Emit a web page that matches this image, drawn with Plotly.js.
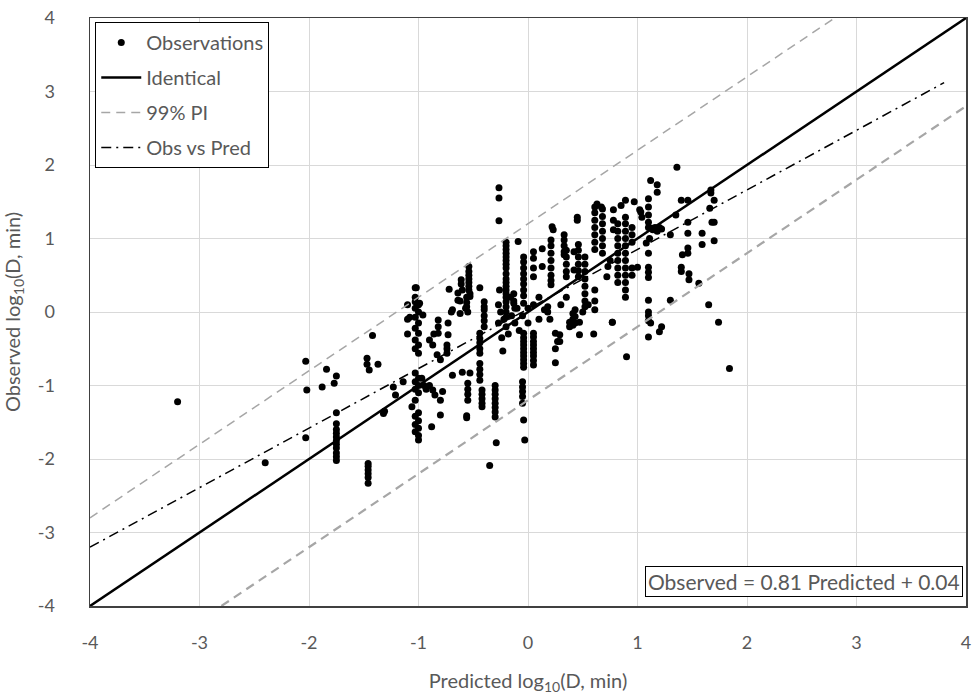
<!DOCTYPE html>
<html>
<head>
<meta charset="utf-8">
<script src="https://cdn.plot.ly/plotly-3.0.1.min.js"></script>
<style>html,body{margin:0;padding:0;background:#fff;}#chart{width:974px;height:695px;}</style>
</head>
<body>
<div id="chart"></div>
<script>
// Observations: predicted (x) and observed (y) log10(D, min)
const predicted = [
 -3.2, -2.4, -2.03, -2.02, -2.03, -1.88, -1.84, -1.77, -1.75,
 -1.75, -1.75, -1.75, -1.75, -1.75, -1.75, -1.75, -1.75, -1.75, -1.75, -1.75,
 -1.47, -1.47, -1.45, -1.42, -1.37,
 -1.46, -1.46, -1.46, -1.46, -1.46, -1.46,
 -1.32, -1.31, -1.23, -1.21, -1.14, -1.06, -1.1, -1.1, -1.1, -1.08,
 -1.03, -1.03, -1.03, -1.03, -1.03, -1.03, -1.03, -1.03, -1.03, -1.03, -1.03, -1.03, -1.03, -1.03, -1.03,
 -1.0, -1.0, -1.0, -1.0, -1.0, -1.0, -1.0, -1.0, -1.0, -1.0, -1.0, -1.0, -1.0, -1.0,
 -0.96, -0.99, -0.97, -0.95, -0.93,
 -0.9, -0.87, -0.83, -0.8, -0.82, -0.82, -0.82, -0.9, -0.87, -0.85, -0.8, -0.78, -0.8, -0.88, -0.86,
 -0.73, -0.73, -0.74, -0.74, -0.74, -0.69, -0.6, -0.53,
 -0.55, -0.55, -0.55, -0.55, -0.56, -0.56,
 -0.44, -0.44, -0.44, -0.44, -0.42, -0.42, -0.42, -0.42, -0.42,
 -0.44, -0.44, -0.44, -0.44, -0.44,
 -0.3, -0.3, -0.3, -0.3, -0.3, -0.3, -0.3, -0.3, -0.29, -0.35, -0.23,
 -0.05, -0.05, -0.05, -0.05, -0.05, -0.04, -0.03,
 -0.04, -0.04, -0.04, -0.04, -0.04, -0.04, -0.04, -0.04, -0.04, -0.04,
 0.05, 0.05, 0.05, 0.05, 0.05, 0.05, 0.05, 0.05, 0.05,
 0.18, 0.18, 0.2, 0.15, 0.25, 0.25, 0.25, 0.27, 0.41, 0.41, 0.41,
 -0.4, -0.4, -0.4, -0.4, -0.4, -0.4,
 -0.27, -0.25, -0.22, -0.2, -0.18, -0.15, -0.13, -0.12, -0.1, -0.08, -0.27, -0.24, -0.16,
 -0.54, -0.54, -0.54, -0.54, -0.54, -0.54, -0.54, -0.53, -0.53,
 -0.61, -0.61, -0.6, -0.64, -0.64, -0.56, -0.56, -0.56, -0.72, -0.7, -0.62, -0.44, -0.26, -1.02,
 -0.62, -0.57, -0.55, -0.69, -0.13, -0.13, -0.12,
 -0.2, -0.2, -0.2, -0.2, -0.2, -0.2, -0.2, -0.2, -0.2, -0.2, -0.2, -0.2, -0.2, -0.2, -0.2, -0.2, -0.2, -0.2, -0.2,
 -0.265, -0.265, -0.265, -0.09,
 -0.04, -0.04, -0.04, -0.04, -0.04, -0.04, -0.04, -0.04, -0.04,
 0.05, 0.05, 0.05, 0.05, 0.13, 0.13, 0.22, 0.23,
 0.21, 0.21, 0.21, 0.21, 0.21, 0.21, 0.21, 0.21,
 0.33, 0.33, 0.33, 0.33, 0.33, 0.42, 0.42, 0.45, 0.45,
 0.35, 0.35, 0.35, 0.35, 0.35,
 0.46, 0.46, 0.46, 0.46, 0.46, 0.46,
 0.0, 0.05, 0.1, 0.1, 0.0, -0.05,
 0.29, 0.29, 0.38, 0.38, 0.47, 0.47, 0.6, 0.77, 0.3, 0.35, 0.5, 0.55,
 0.52, 0.52, 0.52, 0.52, 0.52, 0.52, 0.52, 0.52,
 0.61, 0.61, 0.61, 0.61, 0.61, 0.61, 0.61, 0.61, 0.61, 0.61,
 0.68, 0.68, 0.68, 0.68, 0.68, 0.68, 0.68,
 0.78, 0.78, 0.78,
 0.82, 0.82, 0.82, 0.82, 0.82, 0.82, 0.82, 0.82, 0.82,
 0.89, 0.89, 0.89, 0.89, 0.89, 0.89, 0.89, 0.89, 0.89, 0.89, 0.89, 0.89,
 0.89, 0.97, 1.02, 0.9, 1.03, 1.04,
 0.95, 0.95, 0.95, 0.95, 0.95, 1.0, 0.72, 0.77, 0.43, 0.43, 0.43,
 0.63, 0.67, 0.85, 0.73, 0.75,
 1.36, 1.12, 1.18, 1.18,
 1.1, 1.1, 1.1, 1.1,
 1.1, 1.13, 1.16, 1.2, 1.14, 1.18, 1.22,
 1.4, 1.46, 1.67, 1.67, 1.7, 1.66, 1.68, 1.7,
 1.46, 1.35, 1.3, 1.46, 1.59, 1.59, 1.7,
 1.46, 1.46, 1.41, 1.4, 1.4, 1.47, 1.47, 1.56,
 1.3, 1.65, 1.74, 1.84,
 1.1, 1.1, 1.1, 1.1, 1.12, 1.2, 1.22, 1.1,
 1.1, 1.1, 1.1, 1.1, 1.08, 1.11
];
const observed = [
 -1.22, -2.05, -0.67, -1.06, -1.71, -1.02, -0.78, -0.97, -0.87,
 -1.37, -1.52, -1.6, -1.65, -1.7, -1.75, -1.8, -1.85, -1.92, -1.97, -2.02,
 -0.63, -0.71, -0.79, -0.32, -0.71,
 -2.06, -2.1, -2.15, -2.2, -2.25, -2.33,
 -1.38, -1.35, -1.02, -1.13, -0.95, -1.29, 0.1, -0.1, -0.3, -0.07,
 0.33, 0.2, 0.14, 0.05, -0.07, -0.22, -0.38, -0.5, -0.83, -0.95, -1.05, -1.2, -1.42, -1.53, -1.63,
 0.1, 0.0, -0.15, -0.29, -0.45, -0.56, -0.9, -1.0, -1.1, -1.37, -1.48, -1.58, -1.68, -1.74,
 -0.04, 0.12, -0.9, -1.0, -1.05,
 -0.38, -0.45, -0.58, -0.65, -0.11, -0.2, -0.29, -1.0, -1.06, -1.13, -1.2, -1.08, -1.4, -1.56, -0.3,
 -0.15, -0.31, -0.45, -0.5, -0.56, -0.86, -0.82, -0.83,
 -0.97, -1.05, -1.12, -1.2, -1.41, -1.44,
 -0.7, -0.78, -0.85, -0.93, -1.06, -1.12, -1.18, -1.24, -1.29,
 -0.29, -0.36, -0.42, -0.5, -0.56,
 -1.0, -1.06, -1.12, -1.18, -1.24, -1.3, -1.36, -1.43, -1.78, -2.09, -0.53,
 -0.95, -1.02, -1.08, -1.15, -1.24, -1.47, -1.74,
 -0.29, -0.35, -0.4, -0.45, -0.5, -0.55, -0.6, -0.65, -0.7, -0.75,
 -0.29, -0.34, -0.4, -0.45, -0.5, -0.55, -0.6, -0.66, -0.72,
 0.07, 0.0, -0.1, 0.03, -0.29, -0.5, -0.69, -0.4, -0.02, -0.1, -0.18,
 0.14, 0.07, 0.03, -0.05, -0.12, -0.2,
 0.1, 0.0, -0.1, -0.2, -0.3, -0.05, 0.12, -0.15, 0.05, -0.25, -0.15, -0.35, 0.2,
 0.62, 0.55, 0.5, 0.45, 0.4, 0.35, 0.3, 0.25, 0.21,
 0.44, 0.38, 0.3, 0.26, 0.16, 0.2, 0.13, 0.07, 0.31, 0.0, -0.02, 0.33, 0.3, 0.33,
 0.15, 0.05, 0.0, 0.03, 0.25, 0.15, 0.05,
 0.95, 0.9, 0.85, 0.8, 0.75, 0.7, 0.65, 0.6, 0.52, 0.45, 0.4, 0.35, 0.3, 0.25, 0.2, 0.14, 0.07, 0.0, -0.07,
 1.69, 1.55, 1.24, 0.96,
 0.75, 0.68, 0.6, 0.52, 0.45, 0.38, 0.3, 0.22, 0.12,
 0.82, 0.73, 0.6, 0.48, 0.86, 0.62, 1.16, 1.12,
 0.98, 0.9, 0.8, 0.7, 0.6, 0.5, 0.43, 0.37,
 1.05, 0.98, 0.9, 0.82, 0.78, 0.82, 0.57, 1.29, 1.25,
 0.84, 0.75, 0.65, 0.55, 0.48,
 0.92, 0.84, 0.75, 0.65, 0.56, 0.48,
 0.05, 0.1, 0.2, -0.1, -0.15, -0.05,
 -0.31, -0.4, -0.14, -0.2, -0.14, -0.31, -0.3, -0.14, 0.1, 0.2, 0.0, 0.1,
 0.75, 0.65, 0.55, 0.45, 0.35, 0.25, 0.15, 0.07,
 1.43, 1.35, 1.25, 1.15, 1.05, 0.95, 0.85, 0.3, 0.15, 0.03,
 1.4, 1.3, 1.2, 1.1, 1.0, 0.9, 0.8,
 1.39, 1.25, 1.12,
 1.2, 1.1, 1.0, 0.9, 0.8, 0.7, 0.6, 0.5, 0.4,
 1.29, 1.2, 1.1, 1.0, 0.9, 0.8, 0.7, 0.6, 0.5, 0.4, 0.3, 0.2,
 1.52, 1.5, 1.39, -0.61, 1.36, 1.29,
 1.15, 1.05, 0.95, 0.6, 0.5, 0.61, 0.48, -0.14, 0.03, -0.06, -0.15,
 1.47, 1.43, 1.45, 0.62, 0.7,
 1.97, 1.79, 1.73, 1.63,
 1.54, 1.43, 1.32, 1.22,
 1.15, 1.14, 1.15, 1.15, 1.12, 1.1, 1.13,
 1.52, 1.52, 1.66, 1.62, 1.52, 1.41, 1.22, 1.22,
 1.22, 1.32, 1.05, 1.07, 1.07, 0.92, 0.97,
 0.87, 0.8, 0.78, 0.61, 0.55, 0.52, 0.44, 0.39,
 0.16, 0.1, -0.14, -0.77,
 0.16, 0.0, -0.05, -0.12, -0.15, -0.27, -0.2, -0.34,
 0.8, 0.61, 0.54, 0.47, 0.94, 1.0
];

// Reference lines (endpoints)
const identicalX = [-4, 4];
const identicalY = [-4, 4];
const piUpperX = [-4, 2.8];
const piUpperY = [-2.8, 4];
const piLowerX = [-2.8, 4];
const piLowerY = [-4, 2.8];
const fitX = [-4, 3.8];
const fitY = [-3.2, 3.12];

const legendNames = ["Observations", "Identical", "99% PI", "Obs vs Pred"];
const xTicks = [-4, -3, -2, -1, 0, 1, 2, 3, 4];
const yTicks = [-4, -3, -2, -1, 0, 1, 2, 3, 4];
const equationText = "Observed = 0.81 Predicted + 0.04";

const txt = "#595959";
const fontFam = "Lato, 'Open Sans', sans-serif";

const traces = [
 {x: predicted, y: observed, type: "scatter", mode: "markers", name: legendNames[0],
  legendgroup: "a", marker: {color: "#000", size: 7}, cliponaxis: true},
 {x: identicalX, y: identicalY, type: "scatter", mode: "lines", name: legendNames[1],
  legendgroup: "b", line: {color: "#000", width: 2.5}},
 {x: piUpperX, y: piUpperY, type: "scatter", mode: "lines", name: legendNames[2],
  legendgroup: "c", line: {color: "#a6a6a6", width: 1.5, dash: "9px,6px"}},
 {x: piLowerX, y: piLowerY, type: "scatter", mode: "lines", name: legendNames[2],
  legendgroup: "c", showlegend: false, line: {color: "#a6a6a6", width: 2.2, dash: "9px,6px"}},
 {x: fitX, y: fitY, type: "scatter", mode: "lines", name: legendNames[3],
  legendgroup: "d", line: {color: "#000", width: 1.5, dash: "10px,5px,2px,5px"}}
];

const layout = {
 width: 974, height: 695,
 margin: {l: 90, r: 8, t: 18, b: 89},
 paper_bgcolor: "#fff", plot_bgcolor: "#fff",
 font: {family: fontFam, color: txt, size: 18},
 showlegend: true,
 legend: {x: 0.006, y: 0.993, xanchor: "left", yanchor: "top",
  bordercolor: "#000", borderwidth: 1, bgcolor: "#fff",
  font: {family: fontFam, size: 20, color: txt},
  traceorder: "grouped", tracegroupgap: 6, itemwidth: 40},
 xaxis: {range: [-4, 4], tickvals: xTicks, ticktext: xTicks.map(String),
  showgrid: true, gridcolor: "#d9d9d9", gridwidth: 1, zeroline: false,
  showline: true, mirror: true, linecolor: "#404040", linewidth: 1.5,
  ticks: "", ticklabelstandoff: 20, tickfont: {size: 18, color: txt, family: fontFam},
  title: {text: "Predicted log<sub>10</sub>(D, min)", font: {size: 20, color: txt, family: fontFam}, standoff: 22}},
 yaxis: {range: [-4, 4], tickvals: yTicks, ticktext: yTicks.map(String),
  showgrid: true, gridcolor: "#d9d9d9", gridwidth: 1, zeroline: false,
  showline: true, mirror: true, linecolor: "#404040", linewidth: 1.5,
  ticks: "", ticklabelstandoff: 30, tickfont: {size: 18, color: txt, family: fontFam},
  title: {text: "Observed log<sub>10</sub>(D, min)", font: {size: 20, color: txt, family: fontFam}, standoff: 12}},
 annotations: [{
  xref: "paper", yref: "paper", x: 0.997, y: 0.016, xanchor: "right", yanchor: "bottom",
  text: equationText, showarrow: false, bordercolor: "#000", borderwidth: 1, borderpad: 2,
  bgcolor: "#fff", font: {size: 21, color: txt, family: fontFam}
 }]
};

Plotly.newPlot("chart", traces, layout, {displayModeBar: false, staticPlot: true});
</script>
</body>
</html>
